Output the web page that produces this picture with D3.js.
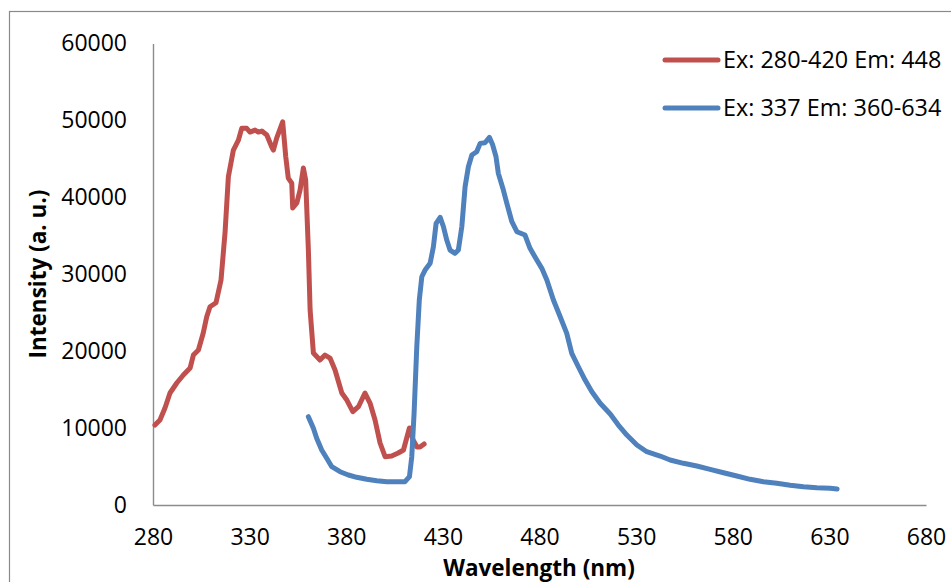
<!DOCTYPE html>
<html>
<head>
<meta charset="utf-8">
<script src="https://cdn.jsdelivr.net/npm/d3@7"></script>
<style>
  html, body { margin: 0; padding: 0; background: #ffffff; }
  svg { display: block; }
  text { font-family: "Open Sans", "Liberation Sans", sans-serif; fill: #000; }
</style>
</head>
<body>
<svg id="chart" width="951" height="582"></svg>
<script>
// Excitation scan (monitoring emission at 448 nm)
const exWavelength = [281.0, 283.6, 286.2, 288.8, 292.3, 295.7, 299.2, 300.9, 303.5, 306.0,
  307.8, 309.5, 312.6, 315.2, 317.3, 319.0, 321.6, 324.2, 325.9, 328.5, 330.2, 332.8, 334.5,
  336.3, 338.9, 341.4, 342.3, 344.0, 347.1, 348.7, 350.0, 351.8, 352.3, 354.4, 356.1, 357.8,
  359.0, 360.4, 361.3, 363.0, 366.4, 369.0, 371.6, 374.2, 377.7, 380.3, 383.4, 386.3, 389.7,
  392.3, 394.9, 397.5, 400.1, 403.5, 406.9, 409.6, 412.7, 414.6, 416.6, 418.2, 420.3];
const exIntensity = [10399, 11049, 12609, 14559, 15859, 16899, 17808, 19498, 20148, 22358,
  24477, 25777, 26297, 29247, 35487, 42676, 46146, 47446, 48967, 48967, 48486, 48746, 48486,
  48616, 48096, 46575, 46146, 47706, 49825, 45275, 42506, 41856, 38607, 39257, 40946, 43806,
  42246, 33147, 25348, 19758, 18848, 19498, 19108, 17548, 14559, 13649, 12128, 12778, 14559,
  13259, 11049, 8060, 6278, 6369, 6759, 7149, 10009, 8449, 7539, 7539, 7929];

// Emission scan (excitation at 337 nm)
const emWavelength = [360.4, 363.0, 364.7, 367.3, 369.9, 372.5, 376.8, 381.1, 385.4, 390.6,
  395.8, 401.0, 406.1, 410.4, 412.7, 413.9, 415.1, 416.5, 417.8, 419.1, 420.8, 423.4, 425.1,
  426.5, 428.6, 430.3, 432.0, 433.7, 436.3, 438.0, 439.8, 441.5, 443.2, 445.0, 447.5, 449.3,
  451.8, 454.1, 455.8, 457.5, 458.7, 461.3, 463.1, 465.7, 468.3, 472.5, 475.1, 478.6, 481.2,
  483.8, 487.2, 490.7, 494.1, 496.7, 500.1, 503.6, 507.1, 511.4, 516.6, 520.8, 525.2, 530.4,
  535.5, 542.4, 547.6, 554.5, 561.4, 568.3, 575.2, 582.1, 589.0, 595.9, 602.8, 609.7, 616.6,
  623.5, 630.4, 634.0];
const emIntensity = [11478, 9970, 8670, 7149, 6070, 4979, 4329, 3900, 3601, 3341,
  3159, 3029, 3029, 3029, 3679, 6278, 11920, 20577, 26648, 29676, 30547, 31418, 33576,
  36618, 37398, 36176, 34447, 33147, 32718, 33147, 36176, 41375, 43975, 45496, 45925, 47017,
  47095, 47797, 46796, 45275, 43117, 40946, 39218, 36826, 35526, 35097, 33368, 31847, 30768,
  29247, 26648, 24477, 22319, 19719, 17977, 16248, 14728, 13220, 11829, 10399, 9099, 7799,
  6928, 6369, 5849, 5421, 5070, 4641, 4199, 3770, 3341, 3029, 2821, 2561, 2379,
  2249, 2171, 2080];

const seriesNames = ["Ex: 280-420 Em: 448", "Ex: 337 Em: 360-634"];
const xTicks = [280, 330, 380, 430, 480, 530, 580, 630, 680];
const yTicks = [0, 10000, 20000, 30000, 40000, 50000, 60000];
const xTitle = "Wavelength (nm)";
const yTitle = "Intensity (a. u.)";

const colors = ["#C0504D", "#4F81BD"];
const series = [
  exWavelength.map((w, i) => ({ x: w, y: exIntensity[i] })),
  emWavelength.map((w, i) => ({ x: w, y: emIntensity[i] }))
];

const svg = d3.select("#chart");

// outer chart frame (continues past the visible edges)
svg.append("rect")
  .attr("x", 9.5).attr("y", 11.5)
  .attr("width", 1000).attr("height", 1000)
  .attr("fill", "none").attr("stroke", "#8a8a8a").attr("stroke-width", 1.2);

const x = d3.scaleLinear().domain([280, 680]).range([153, 926]);
const y = d3.scaleLinear().domain([0, 60000]).range([505, 43.5]);

const axisColor = "#8c8c8c";

// axes
const xAxis = svg.append("g")
  .attr("transform", `translate(0,${y(0)})`)
  .call(d3.axisBottom(x).tickValues(xTicks).tickSize(0).tickPadding(24).tickFormat(d3.format("d")));
const yAxis = svg.append("g")
  .attr("transform", `translate(${x(280)},0)`)
  .call(d3.axisLeft(y).tickValues(yTicks).tickSize(0).tickPadding(26).tickFormat(d3.format("d")));

[xAxis, yAxis].forEach(g => {
  g.select(".domain").attr("stroke", axisColor).attr("stroke-width", 1.4);
  g.selectAll("text").attr("font-size", 23).attr("font-family", "Open Sans");
});
xAxis.selectAll("text").attr("dy", "0.71em");

// axis titles
svg.append("text")
  .attr("x", 539).attr("y", 576)
  .attr("text-anchor", "middle")
  .attr("font-size", 22.5).attr("font-weight", "bold")
  .text(xTitle);
svg.append("text")
  .attr("transform", "translate(46,274) rotate(-90)")
  .attr("text-anchor", "middle")
  .attr("font-size", 22.5).attr("font-weight", "bold")
  .text(yTitle);

// spectra
const line = d3.line().x(d => x(d.x)).y(d => y(d.y)).curve(d3.curveLinear);
series.forEach((s, i) => {
  svg.append("path")
    .datum(s)
    .attr("d", line)
    .attr("fill", "none")
    .attr("stroke", colors[i])
    .attr("stroke-width", 5)
    .attr("stroke-linejoin", "round")
    .attr("stroke-linecap", "round");
});

// legend
const legend = svg.append("g");
seriesNames.forEach((name, i) => {
  const ly = 60 + i * 48;
  legend.append("line")
    .attr("x1", 665).attr("x2", 718)
    .attr("y1", ly).attr("y2", ly)
    .attr("stroke", colors[i]).attr("stroke-width", 5)
    .attr("stroke-linecap", "round");
  legend.append("text")
    .attr("x", 723).attr("y", ly)
    .attr("dy", "0.35em")
    .attr("font-size", 23.4)
    .text(name);
});
</script>
</body>
</html>
